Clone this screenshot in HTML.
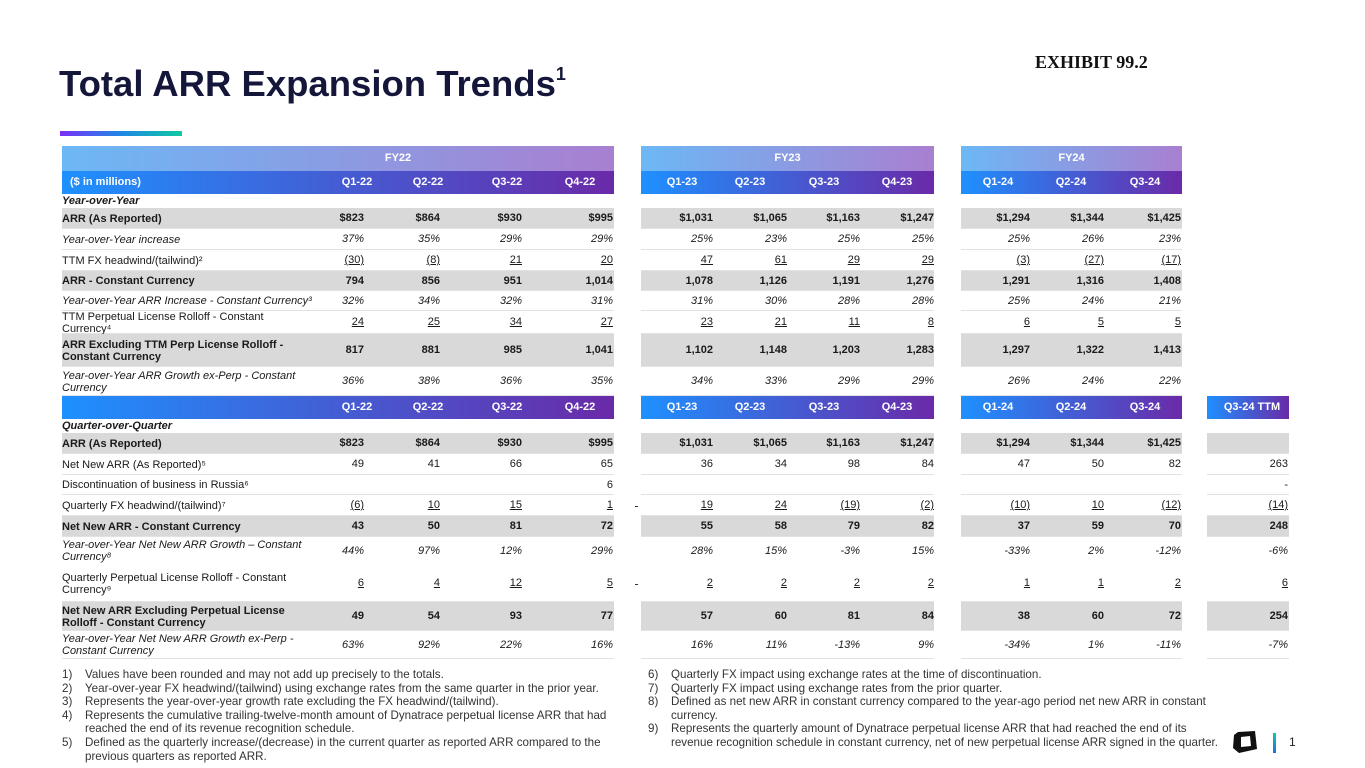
<!DOCTYPE html>
<html><head><meta charset="utf-8">
<style>
*{margin:0;padding:0;box-sizing:border-box}
body{width:1365px;height:768px;background:#fff;position:relative;overflow:hidden;font-family:"Liberation Sans",sans-serif;color:#1a1a1a}
.a{position:absolute;white-space:nowrap}
.fn{position:absolute;font-size:11.6px;color:#333;line-height:13.6px;white-space:nowrap}
</style></head><body>
<div class="a" style="left:59px;top:63px;font-size:36.5px;font-weight:bold;color:#14163a">Total ARR Expansion Trends<span style="font-size:18px;vertical-align:16px">1</span></div>
<div class="a" style="left:1035px;top:52px;font-family:'Liberation Serif',serif;font-weight:bold;font-size:18px;color:#111">EXHIBIT 99.2</div>
<div class="a" style="left:60px;top:131px;width:122px;height:5px;background:linear-gradient(90deg,#7b2ff7,#1e88e5,#10c9a0)"></div>
<div id="tbl"></div>
<div id="notes"></div>
<div class="a" style="left:1233px;top:731px;width:24px;height:22px">
<svg width="24" height="22" viewBox="0 0 24 22"><path d="M5 1 L22 0 L24 18 L6 22 L0 17 L1 4 Z" fill="#111"/><path d="M8 6 L17 5 L18 15 L8 16 Z" fill="#fff"/></svg></div>
<div class="a" style="left:1273px;top:733px;width:3px;height:20px;background:linear-gradient(#10c9a0,#1e6fe5)"></div>
<div class="a" style="left:1289px;top:735px;font-size:12px;color:#222">1</div>
<script>
const headCenters=[357,428,507,580,682,750,824,897,998,1071,1145,1252];
const valRight=[364,440,522,613,713,787,860,934,1030,1104,1181,1288];
const blocks=[[62,614],[641,934],[961,1182],[1207,1289]];
const fyLabels=["FY22","FY23","FY24"];
const quarters=["Q1-22","Q2-22","Q3-22","Q4-22","Q1-23","Q2-23","Q3-23","Q4-23","Q1-24","Q2-24","Q3-24","Q3-24 TTM"];
const E="";
const rows=[
{y:194,h:14,t:"section",l:"Year-over-Year"},
{y:208,h:21,t:"gray",l:"ARR (As Reported)",v:["$823","$864","$930","$995","$1,031","$1,065","$1,163","$1,247","$1,294","$1,344","$1,425"]},
{y:229,h:21,t:"it",l:"Year-over-Year increase",v:["37%","35%","29%","29%","25%","23%","25%","25%","25%","26%","23%"]},
{y:250,h:21,t:"ul",l:"TTM FX headwind/(tailwind)²",v:["(30)","(8)","21","20","47","61","29","29","(3)","(27)","(17)"]},
{y:271,h:20,t:"gray",l:"ARR - Constant Currency",v:["794","856","951","1,014","1,078","1,126","1,191","1,276","1,291","1,316","1,408"]},
{y:291,h:20,t:"it",l:"Year-over-Year ARR Increase - Constant Currency³",v:["32%","34%","32%","31%","31%","30%","28%","28%","25%","24%","21%"]},
{y:311,h:23,t:"ul",l:"TTM Perpetual License Rolloff - Constant<br>Currency⁴",v:["24","25","34","27","23","21","11","8","6","5","5"]},
{y:334,h:33,t:"gray",l:"ARR Excluding TTM Perp License Rolloff -<br>Constant Currency",v:["817","881","985","1,041","1,102","1,148","1,203","1,283","1,297","1,322","1,413"]},
{y:367,h:29,t:"it",l:"Year-over-Year ARR Growth ex-Perp - Constant<br>Currency",v:["36%","38%","36%","35%","34%","33%","29%","29%","26%","24%","22%"]},
{y:419,h:14,t:"section",l:"Quarter-over-Quarter",ttm:1},
{y:433,h:21,t:"gray",l:"ARR (As Reported)",ttm:1,v:["$823","$864","$930","$995","$1,031","$1,065","$1,163","$1,247","$1,294","$1,344","$1,425",E]},
{y:454,h:21,t:"n",l:"Net New ARR (As Reported)⁵",ttm:1,v:["49","41","66","65","36","34","98","84","47","50","82","263"]},
{y:475,h:20,t:"n",l:"Discontinuation of business in Russia⁶",ttm:1,v:[E,E,E,"6",E,E,E,E,E,E,E,"-"]},
{y:495,h:21,t:"ul",l:"Quarterly FX headwind/(tailwind)⁷",ttm:1,v:["(6)","10","15","1","19","24","(19)","(2)","(10)","10","(12)","(14)"]},
{y:516,h:21,t:"gray",l:"Net New ARR - Constant Currency",ttm:1,v:["43","50","81","72","55","58","79","82","37","59","70","248"]},
{y:537,h:28,t:"it",l:"Year-over-Year Net New ARR Growth – Constant<br>Currency⁸",ttm:1,nb:1,v:["44%","97%","12%","29%","28%","15%","-3%","15%","-33%","2%","-12%","-6%"]},
{y:565,h:37,t:"ul",l:"Quarterly Perpetual License Rolloff - Constant<br>Currency⁹",ttm:1,lb:1,v:["6","4","12","5","2","2","2","2","1","1","2","6"]},
{y:602,h:29,t:"gray",l:"Net New ARR Excluding Perpetual License<br>Rolloff - Constant Currency",ttm:1,v:["49","54","93","77","57","60","81","84","38","60","72","254"]},
{y:631,h:28,t:"it",l:"Year-over-Year Net New ARR Growth ex-Perp -<br>Constant Currency",ttm:1,v:["63%","92%","22%","16%","16%","11%","-13%","9%","-34%","1%","-11%","-7%"]}
];
const T=document.getElementById('tbl');
function d(css,html){const e=document.createElement('div');e.className='a';e.style.cssText=css;if(html!==undefined)e.innerHTML=html;T.appendChild(e);return e;}
[[146,3],[396,4]].forEach(function(hd,hi){
 for(let b=0;b<hd[1];b++){
  const bl=blocks[b];
  if(hi===0){
   const f=d(`left:${bl[0]}px;top:146px;width:${bl[1]-bl[0]}px;height:25px;background:linear-gradient(90deg,#6cb8f5,#a97fd0);color:#fff;font-size:11px;font-weight:bold;text-align:center;line-height:25px;padding-left:${b===0?120:0}px`,fyLabels[b]);
   
   
  }
  const y=hi===0?171:396;
  const h=d(`left:${bl[0]}px;top:${y}px;width:${bl[1]-bl[0]}px;height:23px;background:linear-gradient(90deg,#1e90ff,#6a2aa8)`);
  
  
 }
 if(hi===0){const l=d(`left:70px;top:171px;height:23px;line-height:23px;color:#fff;font-size:11px;font-weight:bold`,"($ in millions)");
  
  }
 const n=hi===0?11:12;
 for(let i=0;i<n;i++){
  const q=d(`left:${headCenters[i]-50}px;width:100px;top:${hi===0?171:396}px;height:23px;line-height:23px;color:#fff;font-size:11px;font-weight:bold;text-align:center`,quarters[i]);
  
  
 }
});
rows.forEach(function(r){
 const nb=r.ttm?4:3;
 if(r.t!=="section"){
  for(let b=0;b<nb;b++){
   const bl=blocks[b];
   const bg=d(`left:${bl[0]}px;top:${r.y}px;width:${bl[1]-bl[0]}px;height:${r.h}px;${r.t==='gray'?'background:#d9d9d9;':''}${r.nb?'':'border-bottom:1px solid #e2e2e2;'}`);
   
   
  }
 }
 const bold=r.t==='gray'||r.t==='section';
 const ital=r.t==='it'||r.t==='section';
 const lab=d(`left:62px;top:${r.y}px;height:${r.h}px;display:flex;align-items:center;font-size:11px;line-height:12px;${bold?'font-weight:bold;':''}${ital?'font-style:italic;':''}`,r.l);
 
 
 (r.v||[]).forEach(function(v,i){
  if(!v)return;
  const c=d(`left:${valRight[i]-80}px;width:80px;top:${r.y}px;height:${r.h}px;line-height:${r.h}px;text-align:right;font-size:11px;${bold?'font-weight:bold;':''}${ital?'font-style:italic;':''}${r.t==='ul'?'text-decoration:underline;':''}`,v);
  
  
 });
 if(r.t==='ul'&&r.ttm){const m=d(`left:635px;top:${r.y+r.h/2}px;width:3px;height:1px;background:#333`);
  
  }
});
const notesL=[["1)","Values have been rounded and may not add up precisely to the totals."],["2)","Year-over-year FX headwind/(tailwind) using exchange rates from the same quarter in the prior year."],["3)","Represents the year-over-year growth rate excluding the FX headwind/(tailwind)."],["4)","Represents the cumulative trailing-twelve-month amount of Dynatrace perpetual license ARR that had<br>reached the end of its revenue recognition schedule."],["5)","Defined as the quarterly increase/(decrease) in the current quarter as reported ARR compared to the<br>previous quarters as reported ARR."]];
const notesR=[["6)","Quarterly FX impact using exchange rates at the time of discontinuation."],["7)","Quarterly FX impact using exchange rates from the prior quarter."],["8)","Defined as net new ARR in constant currency compared to the year-ago period net new ARR in constant<br>currency."],["9)","Represents the quarterly amount of Dynatrace perpetual license ARR that had reached the end of its<br>revenue recognition schedule in constant currency, net of new perpetual license ARR signed in the quarter."]];
const N=document.getElementById('notes');
function notes(arr,x){let y=668;arr.forEach(function(n){
 const a=document.createElement('div');a.className='fn';a.style.left=x+'px';a.style.top=y+'px';a.textContent=n[0];
 
 
 N.appendChild(a);
 const b=document.createElement('div');b.className='fn';b.style.left=(x+23)+'px';b.style.top=y+'px';b.innerHTML=n[1];
 
 
 N.appendChild(b);
 y+=13.6*(n[1].split('<br>').length);});}
notes(notesL,62);notes(notesR,648);
</script>
</body></html>
